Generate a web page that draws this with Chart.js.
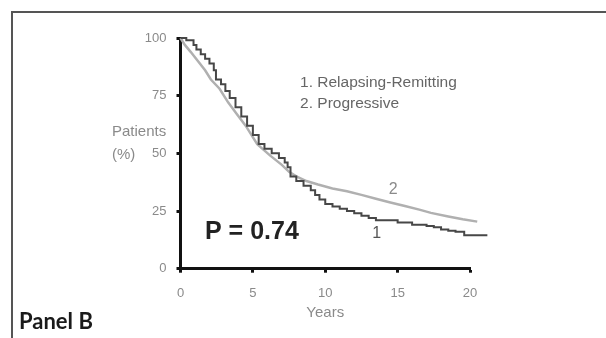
<!DOCTYPE html>
<html><head><meta charset="utf-8">
<script src="https://cdn.jsdelivr.net/npm/chart.js@4/dist/chart.umd.min.js"></script>
<style>
html,body{margin:0;padding:0;background:#fff;}
#wrap{position:relative;width:606px;height:338px;overflow:hidden;background:#fff;}
#frameTop{position:absolute;left:11px;top:11px;width:595px;height:0;border-top:2px solid #555;}
#frameLeft{position:absolute;left:11px;top:11px;width:0;height:327px;border-left:2px solid #555;}
canvas{position:absolute;left:0;top:0;}
</style></head><body>
<div id="wrap"><canvas id="c" width="606" height="338"></canvas><div id="frameTop"></div><div id="frameLeft"></div></div>
<script>
// Series 1: Relapsing-Remitting (dark, step curve)
const yearsRR = [0, 0.4, 0.9, 1.1, 1.4, 1.7, 2.0, 2.3, 2.45, 2.8, 3.1, 3.4, 3.8, 4.2, 4.6, 5.0, 5.4, 5.8, 6.3, 6.8, 7.2, 7.4, 7.6, 8.0, 8.5, 9.0, 9.3, 9.6, 10.0, 10.5, 11.0, 11.5, 12.0, 12.5, 13.0, 13.5, 14.0, 15.0, 16.0, 17.0, 17.5, 18.0, 18.5, 19.0, 19.6, 21.2];
const survRR  = [100, 99, 97, 95, 93, 91, 89, 86, 82, 80, 77, 74, 70, 66, 62, 58, 54, 52, 50, 48, 46, 44, 40, 38, 36, 34, 32, 30, 28, 27, 26, 25, 24, 23, 22, 21, 21, 20, 19, 18.5, 18, 17, 16.5, 16, 14.5, 14.5];
// Series 2: Progressive (light)
const yearsPR = [0, 0.3, 0.7, 1.2, 1.7, 2.1, 2.7, 3.3, 3.9, 4.5, 5.3, 6.2, 7.0, 7.5, 8.0, 8.7, 9.5, 10.5, 11.5, 12.5, 13.5, 14.5, 15.5, 16.5, 17.3, 18.5, 19.5, 20.5, 21.2];
const survPR  = [100, 97, 94, 90, 86, 82, 78, 72, 67, 62, 54, 49, 45, 42, 40, 38, 36.5, 34.8, 33.6, 32, 30.3, 28.7, 27.2, 25.6, 24.2, 22.6, 21.4, 20.4, 19.8];
// Tick labels
const xTicks = [0, 5, 10, 15, 20];
const yTicks = [0, 25, 50, 75, 100];
const seriesNames = ['1. Relapsing-Remitting', '2. Progressive'];
const pValueText = 'P = 0.74';
const panelTitle = 'Panel B';

const annot = {
  id: 'annot',
  afterDraw(chart) {
    const {ctx} = chart;
    const xs = chart.scales.x, ys = chart.scales.y;
    ctx.save();
    // y-axis title
    ctx.fillStyle = '#8a8a8a';
    ctx.font = '15px "Liberation Sans", Arial, sans-serif';
    ctx.textAlign = 'left'; ctx.textBaseline = 'middle';
    ctx.fillText('Patients', 112, 132);
    ctx.fillText('(%)', 112, 155);
    // series legend text
    ctx.fillStyle = '#666';
    ctx.font = '15.5px "Liberation Sans", Arial, sans-serif';
    ctx.fillText(seriesNames[0], xs.getPixelForValue(8.26), ys.getPixelForValue(80.4));
    ctx.fillText(seriesNames[1], xs.getPixelForValue(8.26), ys.getPixelForValue(71.7));
    // P value
    ctx.fillStyle = '#222';
    ctx.font = 'bold 25px "Liberation Sans", Arial, sans-serif';
    ctx.fillText(pValueText, xs.getPixelForValue(1.69), ys.getPixelForValue(15.9));
    // curve labels
    ctx.textAlign = 'center';
    ctx.font = '16px "Liberation Sans", Arial, sans-serif';
    ctx.fillStyle = '#555';
    ctx.fillText('1', xs.getPixelForValue(13.55), ys.getPixelForValue(15.2));
    ctx.fillStyle = '#8a8a8a';
    ctx.fillText('2', xs.getPixelForValue(14.7), ys.getPixelForValue(34.1));
    // panel title
    ctx.textAlign = 'left'; ctx.textBaseline = 'alphabetic';
    ctx.fillStyle = '#1a1a1a';
    ctx.font = 'bold 22px Lato, "Liberation Sans", sans-serif';
    ctx.fillText(panelTitle, 19, 329);
    ctx.restore();
  }
};

const tickFont = {family: '"Liberation Sans", Arial, sans-serif', size: 13};

new Chart(document.getElementById('c'), {
  type: 'line',
  data: {
    datasets: [
      {label: seriesNames[0], data: yearsRR.map((x, i) => ({x, y: survRR[i]})),
       borderColor: '#474747', borderWidth: 2, stepped: true, pointRadius: 0, clip: false, order: 1},
      {label: seriesNames[1], data: yearsPR.map((x, i) => ({x, y: survPR[i]})),
       borderColor: '#b0b0b0', borderWidth: 2.5, tension: 0, pointRadius: 0, clip: false, order: 2}
    ]
  },
  options: {
    responsive: false, animation: false, events: [],
    layout: {padding: {left: 0, right: 136, top: 38, bottom: 0}},
    plugins: {legend: {display: false}, tooltip: {enabled: false}},
    scales: {
      x: {
        type: 'linear', min: 0, max: 20,
        afterFit(s) { s.height = 69.3; },
        afterBuildTicks(s) { s.ticks = xTicks.map(v => ({value: v})); },
        ticks: {color: '#8a8a8a', font: tickFont, padding: 13, maxRotation: 0},
        grid: {drawOnChartArea: false, drawTicks: true, tickLength: 4, tickWidth: 3, tickColor: '#111'},
        border: {display: true, color: '#111', width: 3},
        title: {display: true, text: 'Years', color: '#8a8a8a',
                font: {family: '"Liberation Sans", Arial, sans-serif', size: 15}, padding: {top: 0, bottom: 16}}
      },
      y: {
        type: 'linear', min: 0, max: 100,
        afterFit(s) { s.width = 180.5; },
        afterBuildTicks(s) { s.ticks = yTicks.map(v => ({value: v})); },
        ticks: {color: '#8a8a8a', font: tickFont, padding: 10},
        grid: {drawOnChartArea: false, drawTicks: true, tickLength: 4, tickWidth: 3, tickColor: '#111'},
        border: {display: true, color: '#111', width: 3}
      }
    }
  },
  plugins: [annot]
});
</script>
</body></html>
